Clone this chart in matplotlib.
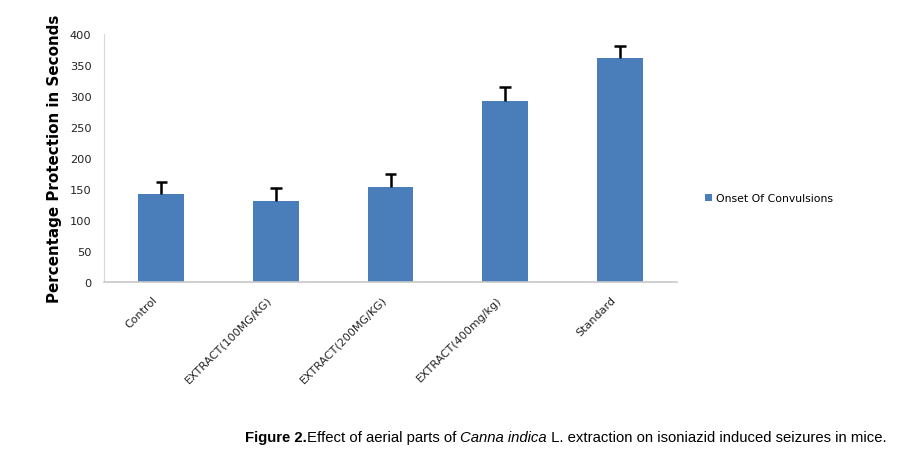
import numpy as np
import matplotlib.pyplot as plt
from matplotlib.transforms import ScaledTranslation

# Onset of convulsions (seconds)
groups = ['Control', 'EXTRACT(100MG/KG)', 'EXTRACT(200MG/KG)', 'EXTRACT(400mg/kg)', 'Standard']
onset = [142, 130, 153, 292, 361]
onset_err = [20, 21, 21, 22, 20]

fig = plt.figure(figsize=(9.14, 4.6), dpi=100)
ax = fig.add_axes([0.1138, 0.3848, 0.627, 0.539])

x = np.arange(len(groups))
ax.bar(x, onset, width=0.4, color='#4a7ebb', label='Onset Of Convulsions', zorder=2)
# plus-only error bars (Excel style)
tops = np.array(onset) + np.array(onset_err)
ax.vlines(x, onset, tops, color='black', linewidth=1.8, zorder=3)
ax.hlines(tops, x - 0.05, x + 0.05, color='black', linewidth=1.8, zorder=3)

ax.set_xlim(-0.5, len(groups) - 0.5)
ax.set_ylim(0, 400)
ax.set_yticks(range(0, 401, 50))
ax.tick_params(axis='y', length=0, labelsize=8.2, pad=9, labelcolor='#222222')
ax.tick_params(axis='x', length=0, labelsize=8, pad=6, labelcolor='#222222')
ax.set_xticks(x)
ax.set_xticklabels(groups, rotation=45, ha='right', rotation_mode='anchor')
shift = ScaledTranslation(-9 / 100, -4 / 100, fig.dpi_scale_trans)
for lbl in ax.get_xticklabels():
    lbl.set_transform(lbl.get_transform() + shift)

for side in ['top', 'right']:
    ax.spines[side].set_visible(False)
ax.spines['left'].set_color('#d8d8d8')
ax.spines['left'].set_linewidth(0.8)
ax.spines['bottom'].set_color('#c8c8c8')
ax.spines['bottom'].set_linewidth(1.2)

ax.set_ylabel('Percentage Protection in Seconds', fontsize=10.9, fontweight='bold')
ax.yaxis.set_label_coords(-0.073, 0.50)

fig.legend(loc='center left', bbox_to_anchor=(0.761, 1 - 199 / 460), frameon=False,
           fontsize=7.8, handlelength=0.6, handleheight=0.6, handletextpad=0.4)

# caption with mixed styles
renderer = fig.canvas.get_renderer()
pieces = [('Figure 2.', 'bold', 'normal'),
          ('Effect of aerial parts of ', 'normal', 'normal'),
          ('Canna indica', 'normal', 'italic'),
          (' L. extraction on isoniazid induced seizures in mice.', 'normal', 'normal')]
xpos = 245 / 914
for txt, w, s in pieces:
    t = fig.text(xpos, 1 - 438 / 460, txt, fontsize=10.7, fontweight=w, fontstyle=s,
                 family='Liberation Sans', va='center', ha='left')
    bb = t.get_window_extent(renderer=renderer)
    xpos += bb.width / fig.bbox.width

fig.savefig('out.png', dpi=100)
